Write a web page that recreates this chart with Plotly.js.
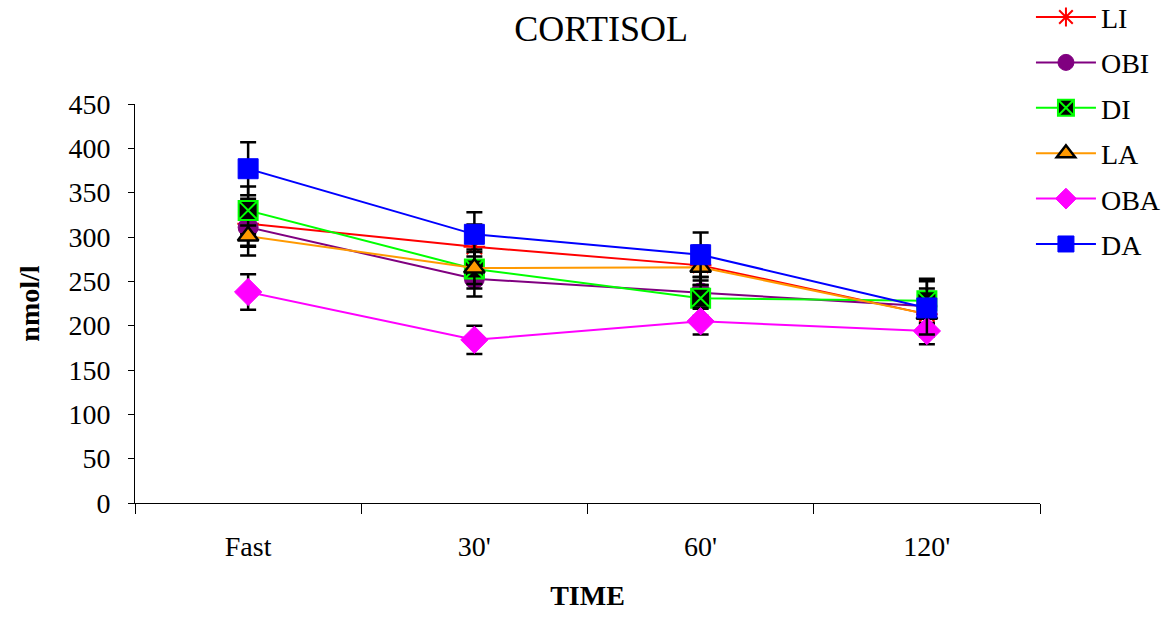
<!DOCTYPE html>
<html><head><meta charset="utf-8">
<script src="https://cdn.plot.ly/plotly-3.0.1.min.js"></script>
<style>html,body{margin:0;padding:0;background:#fff}#chart{width:1174px;height:623px}</style>
</head><body><div id="chart"></div>
<script>
const categories = ["Fast", "30'", "60'", "120'"];
const seriesNames = ["LI", "OBI", "DI", "LA", "OBA", "DA"];
const LI  = [315, 289, 268, 213];
const OBI = [311, 253, 237, 222];
const DI  = [330, 264, 231, 228];
const LA  = [301, 265, 266, 213];
const OBA = [238, 184, 205, 194];
const DA  = [377, 303, 280, 220];
const LI_err  = [25, 25, 22, 25];
const OBI_err = [32, 20, 18, 20];
const DI_err  = [27, 22, 20, 25];
const LA_err  = [12, 18, 20, 15];
const OBA_err = [20, 16, 15, 15];
const DA_err  = [30, 25, 25, 30];

const values = [LI, OBI, DI, LA, OBA, DA];
const errs = [LI_err, OBI_err, DI_err, LA_err, OBA_err, DA_err];
const lineColors = ["#FF0000", "#800080", "#00FF00", "#FF9900", "#FF00FF", "#0000FF"];
const markers = [
  {symbol: "asterisk-open", size: 18, color: "#FF0000", line: {color: "#FF0000", width: 2}},
  {symbol: "circle", size: 20, color: "#800080", line: {color: "#800080", width: 1}},
  {symbol: "square-x", size: 19, color: "#000000", line: {color: "#00FF00", width: 2}},
  {symbol: "triangle-up", size: 18, color: "#FF9900", line: {color: "#000000", width: 2.5}},
  {symbol: "diamond", size: 21, color: "#FF00FF", line: {color: "#FF00FF", width: 1}},
  {symbol: "square", size: 20, color: "#0000FF", line: {color: "#0000FF", width: 1}}
];

const traces = seriesNames.map((n, i) => ({
  type: "scatter", mode: "lines+markers", name: n, legendgroup: n,
  x: categories, y: values[i],
  line: {color: lineColors[i], width: 2},
  marker: markers[i],
  error_y: {type: "data", array: errs[i], visible: true, color: "#000000", thickness: 2.5, width: 8}
}));

const font = {family: "Liberation Serif, Times New Roman, serif", color: "#000"};
const layout = {
  width: 1174, height: 623,
  margin: {l: 135, r: 134, t: 104, b: 120, autoexpand: false},
  paper_bgcolor: "#fff", plot_bgcolor: "#fff",
  font: Object.assign({size: 28}, font),
  title: {text: "CORTISOL", x: 0.512, xanchor: "center", y: 0.955, yanchor: "middle",
          font: Object.assign({size: 36}, font)},
  xaxis: {
    type: "category", range: [-0.5, 3.5], tickson: "boundaries",
    showline: true, linecolor: "#000", linewidth: 1, showgrid: false, zeroline: false,
    ticks: "outside", ticklen: 10, tickcolor: "#000", tickwidth: 1,
    ticklabelstandoff: 18,
    tickfont: Object.assign({size: 28}, font),
    title: {text: "<b>TIME</b>", standoff: 24, font: Object.assign({size: 28}, font)}
  },
  yaxis: {
    range: [0, 450], dtick: 50, tick0: 0,
    showline: true, linecolor: "#000", linewidth: 1, showgrid: false, zeroline: false,
    ticks: "outside", ticklen: 6, tickcolor: "#000", tickwidth: 1,
    ticklabelstandoff: 12,
    tickfont: Object.assign({size: 28}, font),
    title: {text: "<b>nmol/l</b>", standoff: 20, font: Object.assign({size: 28}, font)}
  },
  legend: {
    x: 0.99, xanchor: "left", y: 1.28, yanchor: "top",
    traceorder: "grouped", tracegroupgap: 6, itemwidth: 60,
    font: Object.assign({size: 28}, font), bgcolor: "rgba(0,0,0,0)"
  },
  showlegend: true
};
Plotly.newPlot("chart", traces, layout, {displayModeBar: false, staticPlot: true});
</script></body></html>
